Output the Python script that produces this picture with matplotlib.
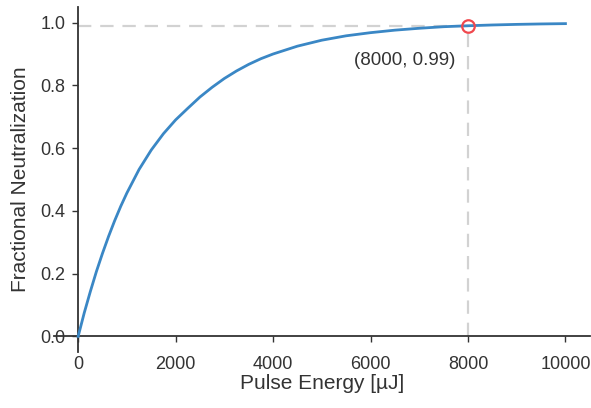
"""
Neutralizacja ulamkowa w funkcji energii impulsu.
"""

import matplotlib.pyplot as plt

energy_uj = [0, 125, 250, 375, 500, 625, 750, 875, 1000, 1250, 1500, 1750,
             2000, 2250, 2500, 2750, 3000, 3250, 3500, 3750, 4000, 4500,
             5000, 5500, 6000, 6500, 7000, 7500, 8000, 8500, 9000, 9500,
             10000]
neutralization = [0.0, 0.075, 0.143, 0.207, 0.265, 0.319, 0.369, 0.415,
                  0.457, 0.532, 0.594, 0.646, 0.690, 0.727, 0.763, 0.794,
                  0.822, 0.846, 0.867, 0.885, 0.900, 0.925, 0.944, 0.958,
                  0.968, 0.976, 0.982, 0.987, 0.990, 0.9925, 0.9944,
                  0.9958, 0.9968]

MARK_X = 8000
MARK_Y = 0.99
MARK_LABEL = "(8000, 0.99)"

X_TICKS = [0, 2000, 4000, 6000, 8000, 10000]
Y_TICKS = [0.0, 0.2, 0.4, 0.6, 0.8, 1.0]

plt.rcParams["font.family"] = ["Liberation Sans", "DejaVu Sans"]

fig = plt.figure(figsize=(5.91, 4.08), dpi=100)
ax = fig.add_axes([0.091, 0.137, 0.907, 0.846])

ax.plot(energy_uj, neutralization, color="#3a87c5", lw=2.0, zorder=3,
        solid_joinstyle="round")

# linie pomocnicze do punktu 0.99
ax.plot([0, MARK_X], [MARK_Y, MARK_Y], color="#d2d2d2", lw=1.6,
        dashes=(6, 4), zorder=2)
ax.plot([MARK_X, MARK_X], [0, MARK_Y], color="#d2d2d2", lw=1.6,
        dashes=(6, 4), zorder=2)
ax.plot([MARK_X], [MARK_Y], marker="o", ms=9, mfc="none", mec="#f0484e",
        mew=1.6, zorder=4)
ax.annotate(MARK_LABEL, (MARK_X, MARK_Y), xytext=(-9, -25),
            textcoords="offset points", ha="right", va="center",
            fontsize=13.5, color="#333333")

ax.set_xlim(-500, 10500)
ax.set_ylim(-0.05, 1.05)
ax.set_xticks(X_TICKS)
ax.set_yticks(Y_TICKS)
ax.set_yticklabels([f"{v:.1f}" for v in Y_TICKS])

ax.spines["left"].set_position(("data", 0))
ax.spines["bottom"].set_position(("data", 0))
ax.spines["right"].set_visible(False)
ax.spines["top"].set_visible(False)
for s in ("left", "bottom"):
    ax.spines[s].set_color("#333333")
    ax.spines[s].set_linewidth(1.3)

ax.tick_params(axis="both", labelsize=13, colors="#333333", length=4,
               width=1.0)
ax.tick_params(axis="x", pad=10)
ax.tick_params(axis="y", pad=5)

ax.set_xlabel("Pulse Energy [µJ]", fontsize=15, color="#333333")
ax.set_ylabel("Fractional Neutralization", fontsize=15, color="#333333")
ax.xaxis.set_label_coords(0.5, -0.062)
ax.yaxis.set_label_coords(-0.045, 0.5)

fig.savefig("out.png", dpi=100)
